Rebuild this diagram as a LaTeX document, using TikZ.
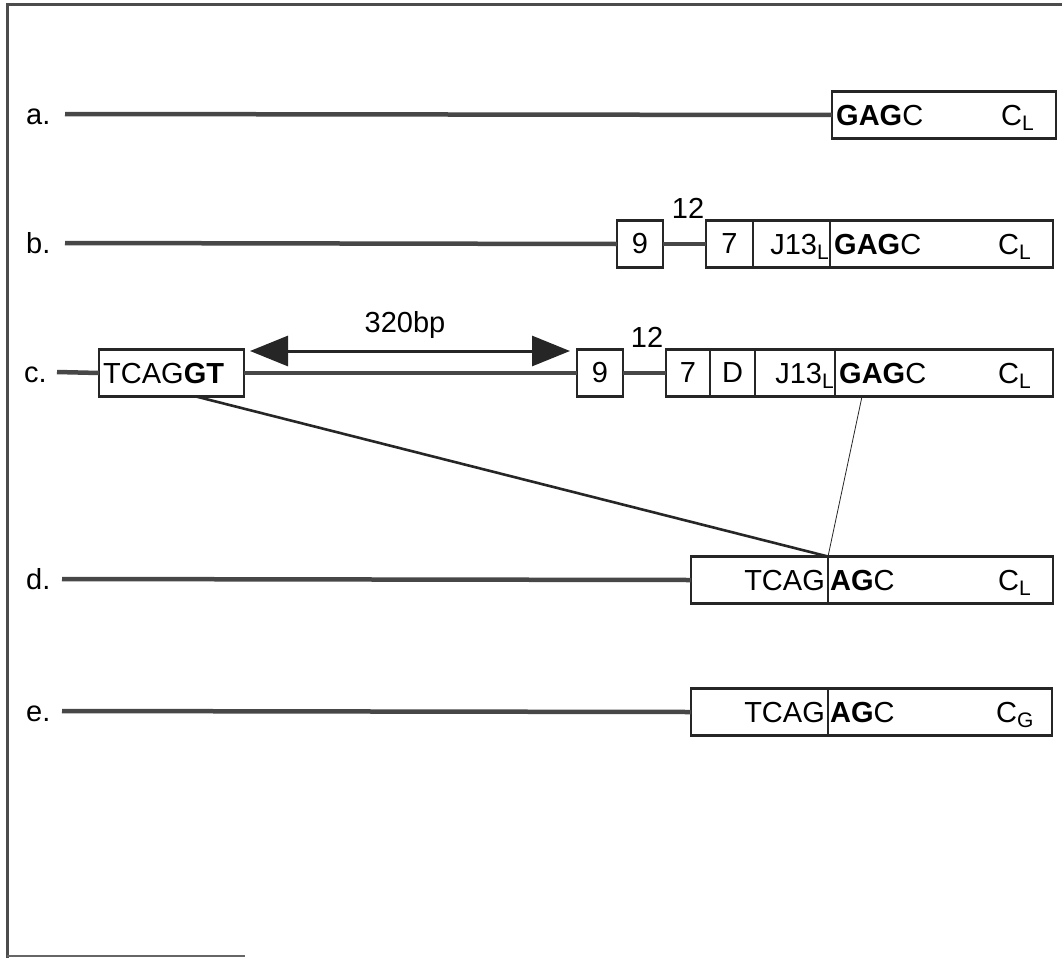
\documentclass[tikz,border=0pt]{standalone}
\usepackage{fontspec}
\setmainfont{Liberation Sans}
\usetikzlibrary{arrows.meta}
\newcommand{\sub}[1]{\raisebox{-0.3ex}{\fontsize{21}{21}\selectfont #1}}
\begin{document}
\begin{tikzpicture}[x=1pt,y=-1pt,
  dna/.style={line width=4.5pt, draw=black!72},
  seg/.style={draw=black!85, line width=2.8pt, rectangle, minimum height=47pt, inner sep=0pt, outer sep=0pt, anchor=west},
  txt/.style={font=\fontsize{29}{30}\selectfont, inner sep=0pt, text=black},
  rowlbl/.style={txt, anchor=base west},
  frame/.style={line width=3pt, draw=black!70},
  link/.style={line width=2.6pt, draw=black!85},
  thin/.style={line width=0.8pt, draw=black!85},
  dimline/.style={line width=3pt, draw=black!85, {Triangle[length=38pt,width=30pt]}-{Triangle[length=38pt,width=30pt]}}
]
\useasboundingbox (0,0) rectangle (1062,958);
% frame
\draw[frame] (7,958) -- (7,5) -- (1062,5);
\draw[line width=2pt, draw=black!60] (7,956) -- (245,956);

% ---------- row a ----------
\node[rowlbl] (la) at (26,124) {a.};
\coordinate (a0) at (65,114);
\node[seg, minimum width=224pt] (aC) at (832,115) {};
\draw[dna] (a0) -- (aC.west);
\node[txt, anchor=base west] (aG) at (836,125.5) {\textbf{GAG}C};
\node[txt, anchor=base west] (aL) at (1001,125.5) {C\sub{L}};

% ---------- row b ----------
\node[rowlbl] (lb) at (26,253) {b.};
\coordinate (b0) at (65,243);
\node[seg, minimum width=46pt] (b9) at (617,244) {};
\node[txt] at (b9.center) {9};
\node[seg, minimum width=47pt] (b7) at (706,244) {};
\node[txt] at (b7.center) {7};
\node[seg, minimum width=77pt] (bJ) at (753,244) {};
\node[txt, anchor=base east] at ([xshift=-1pt,yshift=-10.5pt]bJ.east) {J13\sub{L}};
\node[seg, minimum width=223pt] (bC) at (830,244) {};
\node[txt, anchor=base west] at ([xshift=4pt,yshift=-10.5pt]bC.west) {\textbf{GAG}C};
\node[txt, anchor=base west] at (998,254.5) {C\sub{L}};
\draw[dna] (b0) -- (b9.west);
\draw[dna] (b9.east) -- (b7.west);
\node[txt] (b12) at (688,208) {12};

% ---------- row c ----------
\node[rowlbl] (lc) at (24,382) {c.};
\coordinate (c0) at (57,372);
\node[seg, minimum width=145pt] (cT) at (99,373) {};
\node[txt, anchor=base west] at ([xshift=4pt,yshift=-10.5pt]cT.west) {TCAG\textbf{GT}};
\node[seg, minimum width=46pt] (c9) at (577,373) {};
\node[txt] at (c9.center) {9};
\node[seg, minimum width=44pt] (c7) at (666,373) {};
\node[txt] at (c7.center) {7};
\node[seg, minimum width=45pt] (cD) at (710,373) {};
\node[txt] at (cD.center) {D};
\node[seg, minimum width=80pt] (cJ) at (755,373) {};
\node[txt, anchor=base east] at ([xshift=-1pt,yshift=-10.5pt]cJ.east) {J13\sub{L}};
\node[seg, minimum width=218pt] (cC) at (835,373) {};
\node[txt, anchor=base west] at ([xshift=4pt,yshift=-10.5pt]cC.west) {\textbf{GAG}C};
\node[txt, anchor=base west] at (998,383.5) {C\sub{L}};
\draw[dna] (c0) -- (cT.west);
\draw[dna] (cT.east) -- (c9.west);
\draw[dna] (c9.east) -- (c7.west);
\node[txt] (c12) at (647,337) {12};
% 320bp arrow
\coordinate (arL) at (250,351);
\coordinate (arR) at (570,351);
\draw[dimline] (arL) -- (arR);
\node[txt] (bp) at (405,325) {320bp};

% ---------- row d ----------
\node[rowlbl] (ld) at (26,589) {d.};
\coordinate (d0) at (62,579);
\node[seg, minimum width=137pt] (dT) at (691,580) {};
\node[seg, minimum width=225pt] (dC) at (828,580) {};
\node[txt, anchor=base east] at ([xshift=-3pt,yshift=-10.5pt]dT.east) {TCAG};
\node[txt, anchor=base west] at ([xshift=2pt,yshift=-10.5pt]dC.west) {\textbf{AG}C};
\node[txt, anchor=base west] at (998,590.5) {C\sub{L}};
\draw[dna] (d0) -- (dT.west);

% ---------- row e ----------
\node[rowlbl] (le) at (26,721) {e.};
\coordinate (e0) at (62,711);
\node[seg, minimum width=137pt] (eT) at (691,712) {};
\node[seg, minimum width=224pt] (eC) at (828,712) {};
\node[txt, anchor=base east] at ([xshift=-3pt,yshift=-10.5pt]eT.east) {TCAG};
\node[txt, anchor=base west] at ([xshift=2pt,yshift=-10.5pt]eC.west) {\textbf{AG}C};
\node[txt, anchor=base west] at (996,722.5) {C\sub{G}};
\draw[dna] (e0) -- (eT.west);

% ---------- connecting lines ----------
\draw[link] ([xshift=-48pt]cT.south east) -- (dT.north east);
\draw[thin] ([xshift=27pt]cC.south west) -- (dT.north east);
\end{tikzpicture}
\end{document}
